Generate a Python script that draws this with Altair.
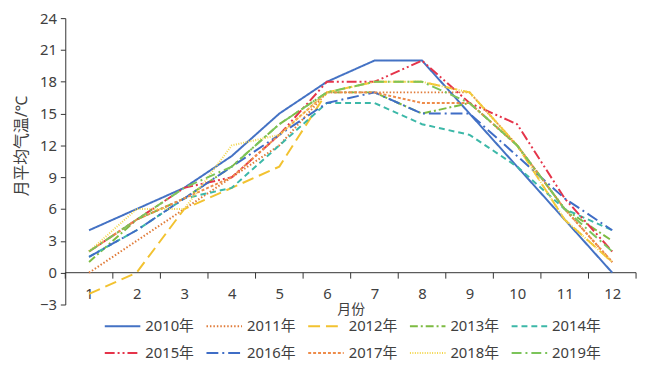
import altair as alt
import pandas as pd

months = list(range(1, 13))
tick_bounds = [m - 0.5 for m in months] + [12.5]
years = ["2010年", "2011年", "2012年", "2013年", "2014年",
         "2015年", "2016年", "2017年", "2018年", "2019年"]

t2010 = [4, 6, 8, 11, 15, 18, 20, 20, 15, 10, 5, 0]
t2011 = [0, 3, 6, 9, 12, 17, 17, 17, 17, 12, 6, 1]
t2012 = [-2, 0, 6, 8, 10, 17, 18, 18, 17, 12, 5, 1]
t2013 = [1, 5, 7, 10, 14, 17, 17, 15, 16, 12, 6, 3]
t2014 = [1.5, 4, 7, 8, 12, 16, 16, 14, 13, 10, 6, 4]
t2015 = [2, 5, 8, 9, 13, 18, 18, 20, 16, 14, 7, 2]
t2016 = [1.5, 4, 7, 10, 13, 16, 17, 15, 15, 11, 7, 4]
t2017 = [2, 5, 7, 9, 13, 17, 17, 16, 16, 12, 6, 1]
t2018 = [2, 6, 6, 12, 13, 17, 18, 18, 17, 12, 5, 1]
t2019 = [2, 5, 8, 10, 14, 17, 18, 18, 16, 12, 6, 2]
series = [t2010, t2011, t2012, t2013, t2014, t2015, t2016, t2017, t2018, t2019]

colors = ["#4472C4", "#E07B39", "#F2C230", "#7DBB42", "#3CB8A8",
          "#E5344A", "#3F6DC6", "#EE8C4A", "#F3D64A", "#7CC45A"]
dashes = [[1, 0], [1.5, 2], [12, 6], [8, 3, 2, 3], [6, 4],
          [10, 3, 2, 3, 2, 3], [12, 4, 2, 4], [3, 2], [1, 1.5], [10, 4, 2, 4]]

rows = []
for yr, vals in zip(years, series):
    for m, v in zip(months, vals):
        rows.append({"month": m, "year": yr, "temp": v})
df = pd.DataFrame(rows)

tick_rows = []
for i, b in enumerate(tick_bounds):
    tick_rows.append({"bx": b, "by": 0.0, "grp": i})
    tick_rows.append({"bx": b, "by": -0.56, "grp": i})
ticks_df = pd.DataFrame(tick_rows)
axis_df = pd.DataFrame({"ax": [0.5, 12.5], "ay": [0.0, 0.0]})

FONT = "Noto Sans, Noto Sans CJK SC"
TXT = "#404040"
AX = "#333333"
H = 290
W = 578
xscale = alt.Scale(domain=[0.5, 12.5], nice=False, zero=False)
yscale = alt.Scale(domain=[-3, 24], nice=False, zero=False)
yvals = list(range(-3, 25, 3))

xaxis = alt.Axis(title="月份", values=months, tickCount=len(months), tickSize=0,
                 offset=-(H * 3 / 27), domain=False, labelPadding=14,
                 labelFontSize=15, titleFontSize=14, titlePadding=1, labelColor=TXT,
                 titleColor=TXT, titleFontWeight="normal", labelFont=FONT,
                 titleFont=FONT, grid=False, labelOverlap=False)
yaxis = alt.Axis(title="月平均气温/℃", values=yvals, tickCount=len(yvals),
                 tickSize=5, labelPadding=4, labelFontSize=15,
                 titleFontSize=16, titleFontWeight="normal",
                 titleAngle=270, titleX=-44, titleY=129,
                 titleAlign="center", titleBaseline="middle",
                 labelColor=TXT, titleColor=TXT,
                 domainColor=AX, tickColor=AX, labelOverlap=False,
                 labelFont=FONT, titleFont=FONT, grid=False)

axis_line = alt.Chart(axis_df).mark_line(color=AX, strokeWidth=1).encode(
    x=alt.X("ax:Q", scale=xscale, axis=xaxis),
    y=alt.Y("ay:Q", scale=yscale, axis=yaxis),
)

tick_marks = alt.Chart(ticks_df).mark_line(color=AX, strokeWidth=1).encode(
    x=alt.X("bx:Q", scale=xscale, axis=xaxis),
    y=alt.Y("by:Q", scale=yscale, axis=yaxis),
    detail="grp:N",
)

lines = alt.Chart(df).mark_line(strokeWidth=2, strokeCap="butt").encode(
    x=alt.X("month:Q", scale=xscale, axis=xaxis),
    y=alt.Y("temp:Q", scale=yscale, axis=yaxis),
    color=alt.Color("year:N", scale=alt.Scale(domain=years, range=colors),
                    legend=alt.Legend(title=None)),
    strokeDash=alt.StrokeDash("year:N", scale=alt.Scale(domain=years, range=dashes),
                              legend=alt.Legend(title=None)),
)

chart = alt.layer(axis_line, tick_marks, lines).properties(
    width=W, height=H,
    autosize=alt.AutoSizeParams(type="none"),
    padding={"left": 58, "top": 8, "right": 4, "bottom": 60},
).configure_view(stroke=None, fill=None).configure_legend(
    orient="none", legendX=39, legendY=293, columns=5, direction="horizontal",
    symbolType="stroke", symbolSize=1296, symbolStrokeWidth=2,
    labelFontSize=15, labelFont=FONT, labelColor=TXT, labelOffset=4,
    columnPadding=8, rowPadding=-10,
)

chart.save("out.html", embed_options={"renderer": "svg", "actions": False})
